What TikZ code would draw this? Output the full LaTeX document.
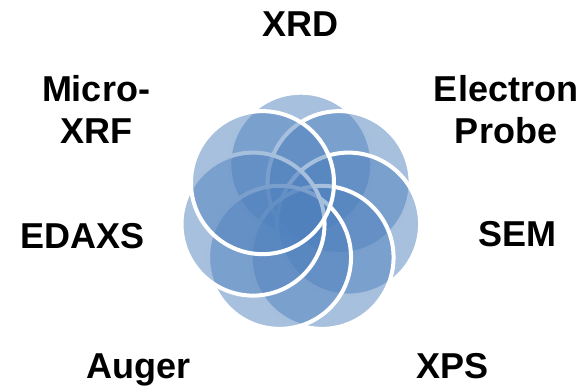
\documentclass[tikz,border=0pt]{standalone}
\usepackage{fontspec}
\setmainfont{Liberation Sans}
\definecolor{petalblue}{HTML}{4F81BD}
\begin{document}
\begin{tikzpicture}[x=1pt, y=-1pt,
  tag/.style={font=\fontsize{36}{41.6}\selectfont\bfseries, inner sep=0pt, align=center, anchor=base},
  petal/.style={fill=petalblue, fill opacity=0.5, draw=white, draw opacity=1, line width=4pt}]
\useasboundingbox (0,0) rectangle (588,386);
% seven petals, clockwise from the top
\foreach \i in {0,...,6}
  \draw[petal] ({300.8+49*cos(90-\i*360/7)}, {213.2-49*sin(90-\i*360/7)}) circle [radius=71.5];
% labels
\node[tag] (xrd) at (300,36.7) {XRD};
\node[tag] (probe) at (506,143.3) {Electron\\Probe};
\node[tag] (sem) at (517.5,246.7) {SEM};
\node[tag] (xps) at (452.5,378) {XPS};
\node[tag] (auger) at (139,378) {Auger};
\node[tag] (edaxs) at (83,248.3) {EDAXS};
\node[tag] (microxrf) at (96,143.3) {Micro-\\XRF};
\end{tikzpicture}
\end{document}
